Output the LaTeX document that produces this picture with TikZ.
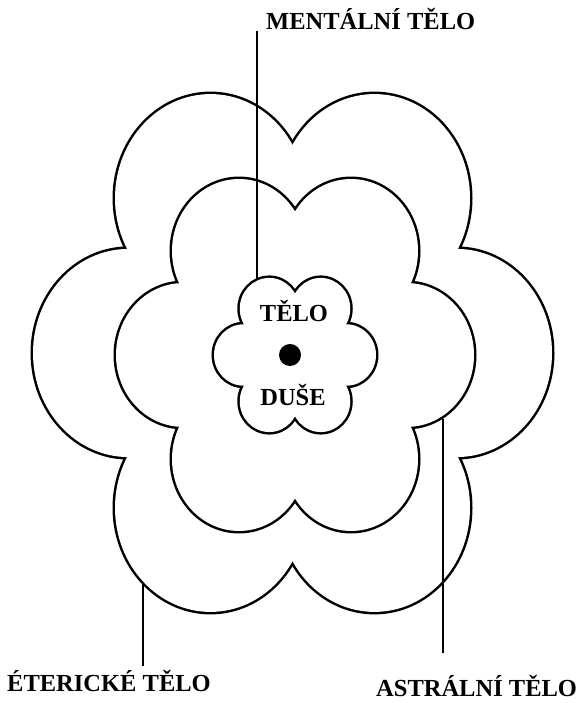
\documentclass[tikz,border=0pt]{standalone}
\usepackage{fontspec}
\setmainfont{Liberation Serif}
\tikzset{
  lobeline/.style={line width=5pt, draw=black},
  lobefill/.style={fill=white},
  leader/.style={line width=1.1pt, draw=black},
  lbl/.style={font=\fontsize{24.5}{29}\selectfont\bfseries, inner sep=0pt},
}
% #1 cx, #2 cy, #3 lobe distance, #4 lobe radius, #5 vertical stretch
\newcommand{\drawflower}[5]{%
  \foreach \a in {0,60,...,300}{
    \draw[lobeline] ({#1+#3*cos(\a)},{#2+#5*#3*sin(\a)}) ellipse[x radius=#4, y radius={#5*#4}];
  }
  \foreach \a in {0,60,...,300}{
    \fill[lobefill] ({#1+#3*cos(\a)},{#2+#5*#3*sin(\a)}) ellipse[x radius=#4, y radius={#5*#4}];
  }
  \fill[lobefill] (#1,#2) ellipse[x radius=#3, y radius={#5*#3}];
}
\begin{document}
\begin{tikzpicture}[x=1pt,y=1pt]
  \fill[white] (0,0) rectangle (587,703);
  \useasboundingbox (0,0) rectangle (587,703);
  % outer (etheric), middle (astral), inner flowers
  \drawflower{292.5}{350}{164}{95.5}{1.09}
  \drawflower{295}{348}{112}{67}{1.073}
  \drawflower{295}{348}{51.5}{29.5}{1.04}
  % soul dot
  \fill[black] (290,348) circle[radius=11];
  % inner labels
  \node[lbl, anchor=base] (telo) at (294,381) {TĚLO};
  \node[lbl, anchor=base] (duse) at (293,297) {DUŠE};
  % outer labels
  \node[lbl, anchor=base west] (mental) at (266,673) {MENTÁLNÍ TĚLO};
  \node[lbl, anchor=base west] (eteric) at (7,11) {ÉTERICKÉ TĚLO};
  \node[lbl, anchor=base west] (astral) at (376,6) {ASTRÁLNÍ TĚLO};
  % leader lines
  \coordinate (mentalA) at (257,672);
  \coordinate (mentalB) at (257,424);
  \coordinate (etericA) at (143,119);
  \coordinate (etericB) at (143,37);
  \coordinate (astralA) at (443,284);
  \coordinate (astralB) at (443,50);
  \draw[leader] (mentalA) -- (mentalB);
  \draw[leader] (etericA) -- (etericB);
  \draw[leader] (astralA) -- (astralB);
\end{tikzpicture}
\end{document}
